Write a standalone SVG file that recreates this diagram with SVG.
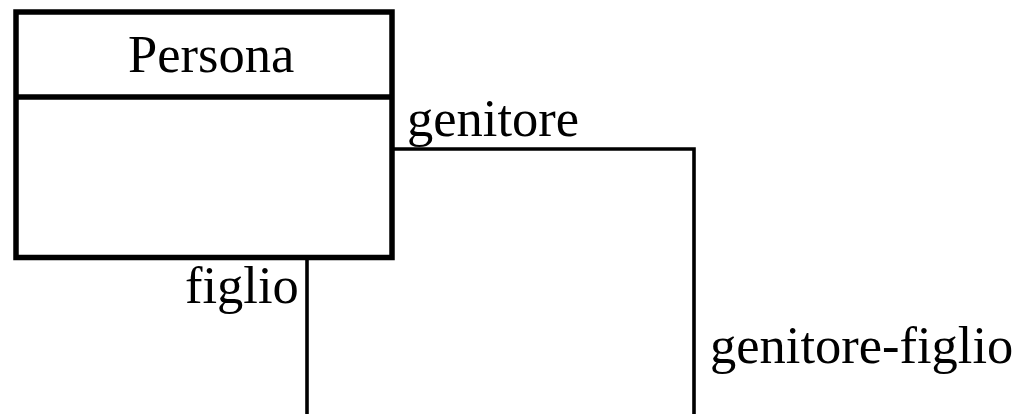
<svg xmlns="http://www.w3.org/2000/svg" width="1025" height="414" viewBox="0 0 1025 414">
<style>
.t{font-family:"Liberation Serif","Times New Roman",serif;font-size:52.5px;fill:#000}
.box{fill:#fff;stroke:#000;stroke-width:5.5}
.conn{fill:none;stroke:#000;stroke-width:3.6}
</style>
<rect width="1025" height="414" fill="#fff"/>
<g id="connectors">
<polyline class="conn" points="392,149 694,149 694,420"/>
<line class="conn" x1="307" y1="257" x2="307" y2="420"/>
</g>
<g id="persona">
<rect class="box" x="16" y="12" width="376" height="245.5"/>
<line x1="16" y1="97" x2="392" y2="97" stroke="#000" stroke-width="5.5"/>
<text class="t" x="128" y="72">Persona</text>
</g>
<g id="labels">
<text class="t" x="407" y="136">genitore</text>
<text class="t" x="185" y="303">figlio</text>
<text class="t" x="710" y="363">genitore-figlio</text>
</g>
</svg>
